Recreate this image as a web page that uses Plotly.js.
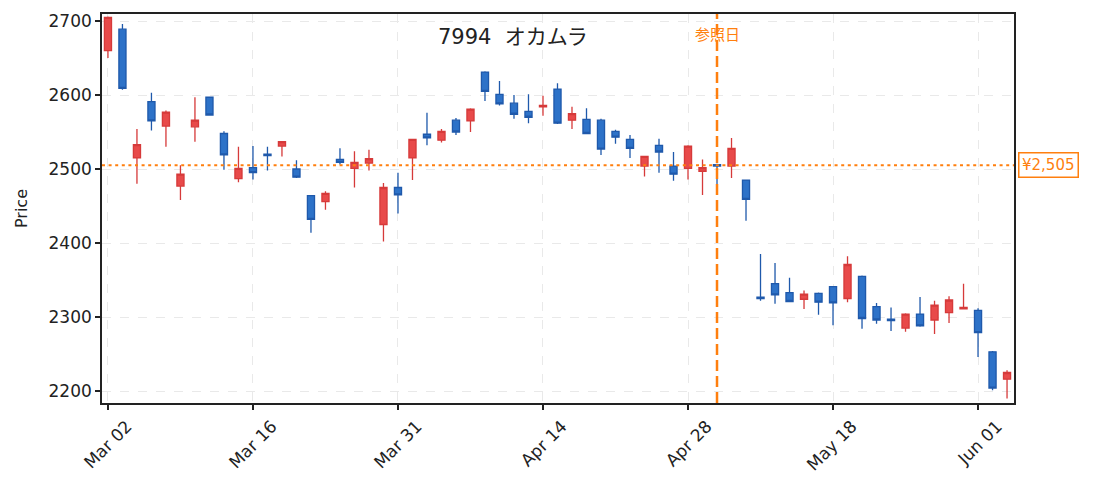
<!DOCTYPE html>
<html>
<head>
<meta charset="utf-8">
<script src="https://cdn.plot.ly/plotly-3.0.1.min.js"></script>
<style>
  html, body { margin: 0; padding: 0; background: #fff; }
  #chart { width: 1093px; height: 491px; }
</style>
</head>
<body>
<div id="chart"></div>
<script>
// trading days (TSE calendar, Mar-Jun 2020)
const dates = [
  "2020-03-02","2020-03-03","2020-03-04","2020-03-05","2020-03-06",
  "2020-03-09","2020-03-10","2020-03-11","2020-03-12","2020-03-13",
  "2020-03-16","2020-03-17","2020-03-18","2020-03-19",
  "2020-03-23","2020-03-24","2020-03-25","2020-03-26","2020-03-27",
  "2020-03-30","2020-03-31","2020-04-01","2020-04-02","2020-04-03",
  "2020-04-06","2020-04-07","2020-04-08","2020-04-09","2020-04-10",
  "2020-04-13","2020-04-14","2020-04-15","2020-04-16","2020-04-17",
  "2020-04-20","2020-04-21","2020-04-22","2020-04-23","2020-04-24",
  "2020-04-27","2020-04-28","2020-04-30","2020-05-01",
  "2020-05-07","2020-05-08",
  "2020-05-11","2020-05-12","2020-05-13","2020-05-14","2020-05-15",
  "2020-05-18","2020-05-19","2020-05-20","2020-05-21","2020-05-22",
  "2020-05-25","2020-05-26","2020-05-27","2020-05-28","2020-05-29",
  "2020-06-01","2020-06-02","2020-06-03"
];
const open  = [2660,2689,2515,2591,2558, 2477,2557,2597,2548,2487, 2502,2520,2531,2500, 2464,2456,2513,2501,2508,
               2425,2475,2515,2547,2539, 2566,2565,2631,2601,2589, 2578,2584,2608,2566,2567, 2566,2551,2540,2504,2532,
               2504,2501,2497,2506, 2504,2485, 2327,2345,2333,2324,2332, 2341,2325,2355,2314,2297,
               2285,2304,2296,2306,2311, 2309,2253,2216];
const high  = [2706,2696,2554,2603,2579, 2505,2597,2598,2551,2530, 2531,2530,2538,2512, 2465,2470,2528,2524,2526,
               2481,2495,2541,2576,2554, 2569,2582,2632,2619,2600, 2601,2599,2616,2584,2582, 2568,2553,2546,2518,2541,
               2523,2532,2513,2507, 2542,2486, 2385,2373,2353,2336,2333, 2342,2382,2356,2319,2313,
               2305,2327,2322,2328,2345, 2312,2254,2228];
const low   = [2650,2607,2480,2552,2530, 2458,2537,2572,2499,2482, 2486,2498,2517,2488, 2414,2445,2506,2475,2498,
               2402,2440,2485,2532,2536, 2546,2550,2592,2586,2568, 2562,2572,2561,2554,2547, 2519,2534,2515,2490,2495,
               2484,2486,2465,2468, 2488,2430, 2322,2318,2320,2311,2303, 2289,2320,2284,2291,2281,
               2280,2287,2277,2292,2310, 2246,2201,2190];
const close = [2705,2609,2533,2565,2577, 2493,2566,2573,2519,2501, 2495,2518,2537,2489, 2432,2467,2509,2509,2514,
               2475,2465,2540,2542,2551, 2550,2581,2605,2588,2574, 2570,2586,2562,2575,2548, 2527,2543,2528,2517,2523,
               2493,2531,2502,2504, 2528,2459, 2325,2330,2321,2331,2320, 2319,2371,2298,2296,2295,
               2304,2288,2316,2323,2313, 2279,2204,2225];

const tickDates  = ["2020-03-02","2020-03-16","2020-03-31","2020-04-14","2020-04-28","2020-05-18","2020-06-01"];
const tickLabels = ["Mar 02","Mar 16","Mar 31","Apr 14","Apr 28","May 18","Jun 01"];

const refDate  = "2020-05-01";
const refPrice = 2505;
const title    = "7994\u00a0\u00a0オカムラ";

const ORANGE = "#ff7f0e";
const FONT = "DejaVu Sans, Noto Sans CJK JP, sans-serif";
const refIdx = dates.indexOf(refDate);

const trace = {
  type: "candlestick",
  x: dates, open: open, high: high, low: low, close: close,
  increasing: { fillcolor: "#e84a4a", line: { color: "#d63a3a", width: 1.3 } },
  decreasing: { fillcolor: "#2d72c8", line: { color: "#1f59ab", width: 1.3 } },
  whiskerwidth: 0,
  hoverinfo: "x+y"
};

const axisCommon = {
  showline: true, mirror: true, linecolor: "#222", linewidth: 1.8,
  ticks: "outside", ticklen: 5, tickwidth: 1.4, tickcolor: "#222",
  showgrid: true, gridcolor: "#e9e9e9", gridwidth: 1, griddash: "dash",
  zeroline: false, automargin: false,
  tickfont: { family: FONT, size: 17, color: "#222" }
};

const layout = {
  width: 1093, height: 491,
  margin: { l: 102, r: 79, t: 14, b: 88 },
  paper_bgcolor: "#fff", plot_bgcolor: "#fff",
  showlegend: false,
  xaxis: Object.assign({}, axisCommon, {
    type: "category",
    range: [-0.41, dates.length - 0.52],
    tickmode: "array", tickvals: tickDates, ticktext: tickLabels,
    tickangle: -45, ticklabelshift: 19,
    rangeslider: { visible: false }
  }),
  yaxis: Object.assign({}, axisCommon, {
    range: [2183.8, 2709.5],
    tickmode: "array", tickvals: [2200, 2300, 2400, 2500, 2600, 2700],
    title: { text: "Price", font: { family: FONT, size: 16, color: "#222" }, standoff: 17 }
  }),
  shapes: [
    { type: "line", xref: "paper", x0: 0, x1: 1, yref: "y", y0: refPrice, y1: refPrice,
      line: { color: ORANGE, width: 2, dash: "3px,3.6px" } },
    { type: "line", xref: "x", x0: refIdx, x1: refIdx, yref: "paper", y0: 0, y1: 1,
      line: { color: ORANGE, width: 2.5, dash: "11px,5px" } }
  ],
  annotations: [
    { text: title, xref: "paper", yref: "paper", x: 0.451, y: 0.94,
      xanchor: "center", yanchor: "middle", showarrow: false,
      font: { family: FONT, size: 21, color: "#222" } },
    { text: "参照日", xref: "x", x: refIdx, yref: "paper", y: 0.947,
      xanchor: "center", yanchor: "middle", showarrow: false,
      font: { family: FONT, size: 15, color: ORANGE } },
    { text: "¥" + refPrice.toLocaleString("en-US"), xref: "paper", x: 1, xshift: 4,
      yref: "y", y: refPrice, xanchor: "left", yanchor: "middle", showarrow: false,
      bgcolor: "#fff", bordercolor: ORANGE, borderwidth: 1.5, borderpad: 2.5,
      font: { family: FONT, size: 15, color: ORANGE } }
  ]
};

Plotly.newPlot("chart", [trace], layout, { displayModeBar: false, staticPlot: true });
</script>
</body>
</html>
